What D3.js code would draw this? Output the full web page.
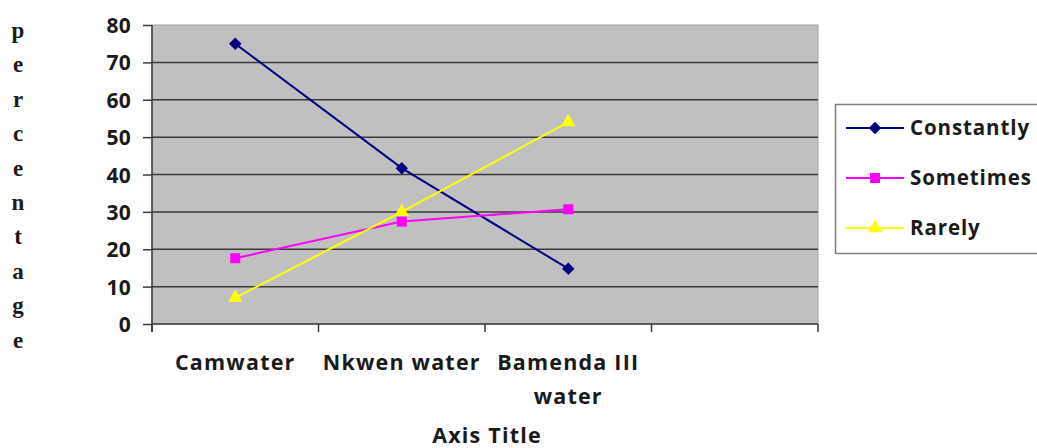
<!DOCTYPE html>
<html lang="en">
<head>
    <meta charset="UTF-8">
    <title>percentage by water source</title>
    <script src="https://d3js.org/d3.v7.min.js"></script>
    <style>
        body { margin: 0; background: #fff; }
        svg text { font-family: "Open Sans", sans-serif; font-weight: bold; fill: #1a1a1a; }
        .axis-label { font-size: 21px; letter-spacing: 0.3px; }
        .cat-label { font-size: 21.5px; letter-spacing: 1.2px; }
        .ytitle { font-family: "Liberation Serif", serif !important; font-size: 23px; }
        .legend text { font-size: 20.5px; letter-spacing: 0.9px; }
    </style>
</head>
<body>
<svg id="chart" width="1037" height="448"></svg>
<script>
    // data
    const categories = ["Camwater", "Nkwen water", "Bamenda III water"];
    const seriesNames = ["Constantly", "Sometimes", "Rarely"];
    const constantly = [75, 41.7, 14.8];
    const sometimes = [17.6, 27.4, 30.7];
    const rarely = [7, 30, 54];
    const yTicks = [0, 10, 20, 30, 40, 50, 60, 70, 80];

    const colors = ["#000080", "#ff00ff", "#ffff00"];
    const shapes = [d3.symbolDiamond2, d3.symbolSquare, d3.symbolTriangle];
    const series = [constantly, sometimes, rarely].map((vals, i) => ({
        name: seriesNames[i], color: colors[i], shape: shapes[i],
        points: vals.map((v, j) => ({cat: categories[j], value: v}))
    }));

    const svg = d3.select("#chart");
    const plot = {left: 152, right: 818, top: 25, bottom: 324};

    // 4 category slots, the last one empty (as in the source chart)
    const x = d3.scaleBand().domain([...categories, "_empty"]).range([plot.left, plot.right]).padding(0);
    const y = d3.scaleLinear().domain([0, 80]).range([plot.bottom, plot.top]);

    svg.append("rect")
        .attr("x", plot.left).attr("y", plot.top)
        .attr("width", plot.right - plot.left).attr("height", plot.bottom - plot.top)
        .attr("fill", "#c0c0c0").attr("stroke", "#a0a0a0").attr("stroke-width", 1);

    // gridlines
    svg.append("g").selectAll("line")
        .data(yTicks.filter(t => t > 0 && t < 80))
        .enter().append("line")
        .attr("x1", plot.left).attr("x2", plot.right)
        .attr("y1", d => y(d)).attr("y2", d => y(d))
        .attr("stroke", "#3a3a3a").attr("stroke-width", 1.5);

    // y axis
    const yAxis = svg.append("g")
        .attr("transform", `translate(${plot.left},0)`)
        .call(d3.axisLeft(y).tickValues(yTicks).tickSize(9).tickPadding(12));
    yAxis.selectAll("text").attr("class", "axis-label").attr("dy", "0.36em");
    yAxis.selectAll("line").attr("stroke", "#3a3a3a").attr("stroke-width", 1.5);
    yAxis.select(".domain").attr("stroke", "#3a3a3a").attr("stroke-width", 1.5).attr("d", `M0,${plot.top}V${plot.bottom + 8}`);

    // x axis: ticks at slot boundaries
    const bounds = [...x.domain().map(d => x(d)), plot.right];
    const xAxis = svg.append("g");
    xAxis.append("line")
        .attr("x1", plot.left).attr("x2", plot.right)
        .attr("y1", plot.bottom).attr("y2", plot.bottom)
        .attr("stroke", "#3a3a3a").attr("stroke-width", 1.5);
    xAxis.selectAll(".tick").data(bounds).enter().append("line")
        .attr("x1", d => d).attr("x2", d => d)
        .attr("y1", plot.bottom).attr("y2", plot.bottom + 8)
        .attr("stroke", "#3a3a3a").attr("stroke-width", 1.5);

    // category labels (wrap the long one)
    categories.forEach(c => {
        const cx = x(c) + x.bandwidth() / 2;
        const words = c === "Bamenda III water" ? ["Bamenda III", "water"] : [c];
        const t = svg.append("text").attr("class", "cat-label")
            .attr("text-anchor", "middle").attr("x", cx).attr("y", 370);
        words.forEach((w, k) => t.append("tspan").attr("x", cx).attr("dy", k === 0 ? 0 : 34).text(w));
    });

    svg.append("text").attr("class", "cat-label")
        .attr("text-anchor", "middle")
        .attr("x", (plot.left + plot.right) / 2 + 2).attr("y", 443)
        .text("Axis Title");

    // vertical stacked y title
    const ytitle = "percentage".split("");
    svg.append("g").selectAll("text").data(ytitle).enter().append("text")
        .attr("class", "ytitle")
        .attr("text-anchor", "middle")
        .attr("x", 18).attr("y", (d, i) => 38 + i * 34.4)
        .text(d => d);

    // lines and markers
    const line = d3.line().x(d => x(d.cat) + x.bandwidth() / 2).y(d => y(d.value));
    series.forEach(s => {
        svg.append("path").datum(s.points)
            .attr("d", line).attr("fill", "none")
            .attr("stroke", s.color).attr("stroke-width", 2);
        svg.append("g").selectAll("path").data(s.points).enter().append("path")
            .attr("transform", d => `translate(${x(d.cat) + x.bandwidth() / 2},${y(d.value)})`)
            .attr("d", d3.symbol().type(s.shape).size(s.shape === d3.symbolTriangle ? 90 : 100))
            .attr("fill", s.color);
    });

    // legend
    const legend = svg.append("g").attr("class", "legend");
    legend.append("rect")
        .attr("x", 835.5).attr("y", 104.5).attr("width", 220).attr("height", 149)
        .attr("fill", "#fff").attr("stroke", "#808080").attr("stroke-width", 1.5);
    series.forEach((s, i) => {
        const ly = 128 + i * 50;
        legend.append("line").attr("x1", 846).attr("x2", 904).attr("y1", ly).attr("y2", ly)
            .attr("stroke", s.color).attr("stroke-width", 2);
        legend.append("path").attr("transform", `translate(875,${ly})`)
            .attr("d", d3.symbol().type(s.shape).size(s.shape === d3.symbolTriangle ? 90 : 100))
            .attr("fill", s.color);
        legend.append("text").attr("x", 910).attr("y", ly).attr("dy", "0.35em").text(s.name);
    });
</script>
</body>
</html>
